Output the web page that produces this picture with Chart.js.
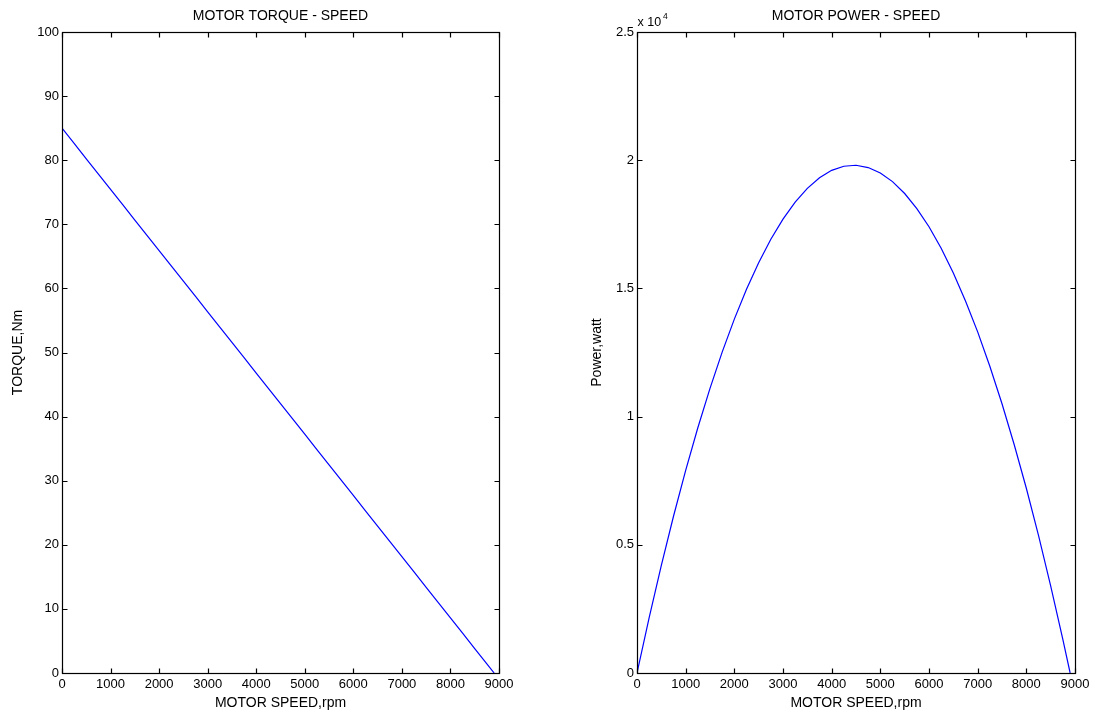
<!DOCTYPE html>
<html>
<head>
<meta charset="utf-8">
<script src="https://cdn.jsdelivr.net/npm/chart.js@4.4.1/dist/chart.umd.min.js"></script>
<style>
html,body{margin:0;padding:0;background:#fff;width:1096px;height:713px;overflow:hidden}
#w1{position:absolute;left:0;top:0;width:548px;height:713px}
#w2{position:absolute;left:548px;top:0;width:548px;height:713px}
</style>
</head>
<body>
<div id="w1"><canvas id="c1"></canvas></div>
<div id="w2"><canvas id="c2"></canvas></div>
<script>
// Motor speed samples (rpm)
const speedRpm = [0,250,500,750,1000,1250,1500,1750,2000,2250,2500,2750,3000,3250,3500,3750,4000,4250,4500,4750,5000,5250,5500,5750,6000,6250,6500,6750,7000,7250,7500,7750,8000,8250,8500,8750,8900];
// Torque (Nm)
const torqueNm = [85.00,82.61,80.22,77.84,75.45,73.06,70.67,68.29,65.90,63.51,61.12,58.74,56.35,53.96,51.57,49.19,46.80,44.41,42.02,39.63,37.25,34.86,32.47,30.08,27.70,25.31,22.92,20.53,18.15,15.76,13.37,10.98,8.60,6.21,3.82,1.43,0];
// Power (watt)
const powerW = [0,2163,4200,6114,7901,9564,11101,12515,13802,14964,16001,16916,17703,18365,18901,19317,19604,19765,19802,19713,19504,19165,18701,18112,17405,16565,15601,14512,13305,11965,10501,8911,7205,5365,3400,1310,0];
// Tick labels
const speedTicks = [0,1000,2000,3000,4000,5000,6000,7000,8000,9000];
const torqueTicks = [0,10,20,30,40,50,60,70,80,90,100];
const powerTickLabels = ['0','0.5','1','1.5','2','2.5'];
const titles = ['MOTOR TORQUE - SPEED','MOTOR POWER - SPEED'];
const xLabel = 'MOTOR SPEED,rpm';
const yLabels = ['TORQUE,Nm','Power,watt'];

const FONT = '"Liberation Sans", Arial, sans-serif';
const FS = 13;     // tick labels
const FL = 14;     // titles / axis labels

const boxPlugin = {
  id: 'matlabBox',
  afterDatasetsDraw(chart, args, opts) {
    const ctx = chart.ctx;
    const {left, right, top, bottom} = chart.chartArea;
    const xs = chart.scales.x, ys = chart.scales.y;
    ctx.save();
    ctx.strokeStyle = '#000';
    ctx.lineWidth = 1.2;
    const L = Math.round(left) + 0.5, R = Math.round(right) + 0.5, T = Math.round(top) + 0.5, B = Math.round(bottom) + 0.5;
    ctx.strokeRect(L, T, R - L, B - T);
    ctx.beginPath();
    xs.ticks.forEach(t => {
      const px = Math.round(xs.getPixelForValue(t.value)) + 0.5;
      ctx.moveTo(px, B); ctx.lineTo(px, B - 5);
      ctx.moveTo(px, T); ctx.lineTo(px, T + 5);
    });
    ys.ticks.forEach(t => {
      const py = Math.round(ys.getPixelForValue(t.value)) + 0.5;
      ctx.moveTo(L, py); ctx.lineTo(L + 5, py);
      ctx.moveTo(R, py); ctx.lineTo(R - 5, py);
    });
    ctx.stroke();
    ctx.fillStyle = '#000';
    ctx.font = FL + 'px ' + FONT;
    ctx.textAlign = 'center';
    ctx.textBaseline = 'alphabetic';
    ctx.fillText(opts.title, (left + right) / 2, 20);
    if (opts.exponent) {
      ctx.textAlign = 'left';
      ctx.font = '12.5px ' + FONT;
      ctx.fillText('x 10', L, 26);
      ctx.font = '8.5px ' + FONT;
      ctx.fillText('4', L + 25.5, 19);
    }
    ctx.restore();
  }
};

function makeChart(id, data, yCfg, title, yLabel, padL, yWidth, padR, exponent) {
  return new Chart(document.getElementById(id), {
    type: 'line',
    data: {
      datasets: [{
        data: speedRpm.map((s, i) => ({x: s, y: data[i]})),
        borderColor: '#0000ff',
        borderWidth: 1.2,
        pointRadius: 0,
        tension: 0,
        fill: false
      }]
    },
    options: {
      responsive: true,
      maintainAspectRatio: false,
      animation: false,
      layout: {padding: {left: padL, right: padR, top: 32, bottom: 0}},
      plugins: {
        legend: {display: false},
        tooltip: {enabled: false},
        matlabBox: {title: title, exponent: exponent}
      },
      scales: {
        x: {
          type: 'linear',
          min: 0, max: 9000,
          afterBuildTicks: s => { s.ticks = speedTicks.map(v => ({value: v})); },
          grid: {display: false, drawTicks: false},
          border: {display: false},
          ticks: {color: '#000', font: {family: FONT, size: FS}, padding: 4, maxRotation: 0, autoSkip: false,
            callback: v => String(v)},
          title: {display: true, text: xLabel, color: '#000', font: {family: FONT, size: FL}, padding: {top: 0, bottom: 1}},
          afterFit: s => { s.height = 40; }
        },
        y: Object.assign({
          type: 'linear',
          grid: {display: false, drawTicks: false},
          border: {display: false},
          title: {display: true, text: yLabel, color: '#000', font: {family: FONT, size: FL}, padding: {top: 10, bottom: 0}},
          afterFit: s => { s.width = yWidth; }
        }, yCfg)
      }
    },
    plugins: [boxPlugin]
  });
}

makeChart('c1', torqueNm, {
  min: 0, max: 100,
  afterBuildTicks: s => { s.ticks = torqueTicks.map(v => ({value: v})); },
  ticks: {color: '#000', font: {family: FONT, size: FS}, padding: 3, autoSkip: false}
}, titles[0], yLabels[0], 0, 62, 49, false);

makeChart('c2', powerW, {
  min: 0, max: 25000,
  afterBuildTicks: s => { s.ticks = powerTickLabels.map((l, i) => ({value: i * 5000})); },
  ticks: {color: '#000', font: {family: FONT, size: FS}, padding: 3, autoSkip: false,
    callback: (v, i) => powerTickLabels[i]}
}, titles[1], yLabels[1], 31, 58, 21, true);
</script>
</body>
</html>
